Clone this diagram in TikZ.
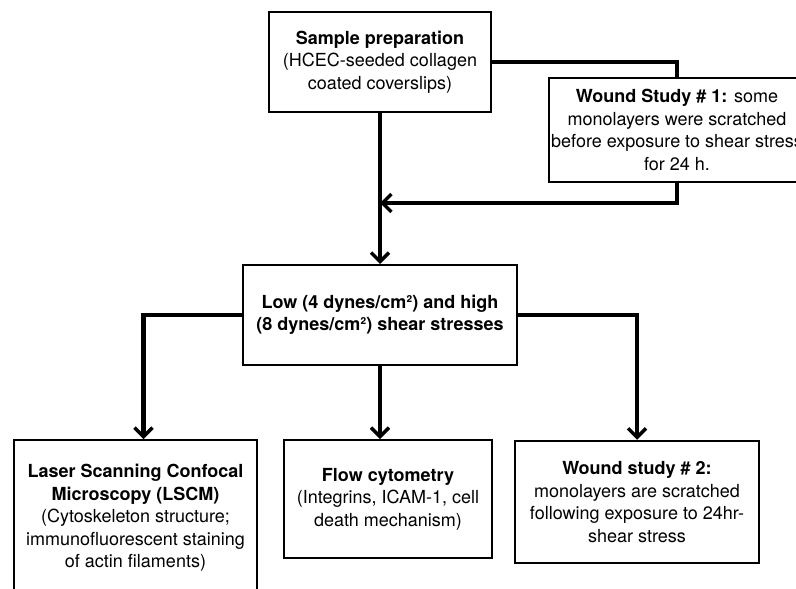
\documentclass[tikz,border=0pt]{standalone}
\usepackage{fontspec}
\setmainfont{TeX Gyre Heros}
\usepackage{tikz}
\usetikzlibrary{arrows.meta,positioning,calc}

\tikzset{
    box/.style={draw=black, line width=2pt, align=center, inner sep=0pt,
        font=\fontsize{18}{22.5}\selectfont},
    link/.style={black, line width=4.5pt},
    linkarrow/.style={link, -{Straight Barb[length=9pt,width=18pt,line width=3.5pt]}}
}

\begin{document}
\begin{tikzpicture}[x=1pt,y=-1pt]
            \useasboundingbox (0,0) rectangle (796,589);
            \clip (0,0) rectangle (796,589);

            % top row
            \node[box, minimum width=222, minimum height=100] (sample) at (380,62)
                {\textbf{Sample preparation}\\(HCEC-seeded collagen\\coated coverslips)};
            \node[box, minimum width=256, minimum height=104] (wound1) at (677,130)
                {\textbf{Wound Study \# 1:} some\\monolayers were scratched\\before exposure to shear stress\\for 24 h.};

            % middle
            \node[box, minimum width=274, minimum height=100] (low) at (380,315)
                {\textbf{Low (4 dynes/cm²) and high}\\\textbf{(8 dynes/cm²) shear stresses}};

            % bottom row
            \node[box, minimum width=243, minimum height=156] (lscm) at (135.5,518)
                {\textbf{Laser Scanning Confocal}\\\textbf{Microscopy (LSCM)}\\(Cytoskeleton structure;\\immunofluorescent staining\\of actin filaments)};
            \node[box, minimum width=208, minimum height=118] (flow) at (388,499)
                {\textbf{Flow cytometry}\\(Integrins, ICAM-1, cell\\death mechanism)};
            \node[box, line width=2.5pt, minimum width=244, minimum height=122] (wound2) at (637,502)
                {\textbf{Wound study \# 2:}\\monolayers are scratched\\following exposure to 24hr-\\shear stress};

            \coordinate (join) at (380,203);

            % connectors
            \draw[link] (sample.east) -| (wound1.north);
            \draw[linkarrow] (wound1.south) |- (join);
            \draw[linkarrow] (sample.south) -- (low.north);
            \draw[linkarrow] (low.west) -| ([xshift=8pt]lscm.north);
            \draw[linkarrow] (low.south) -- (low.south |- flow.north);
            \draw[linkarrow] (low.east) -| (wound2.north);
        \end{tikzpicture}
\end{document}
